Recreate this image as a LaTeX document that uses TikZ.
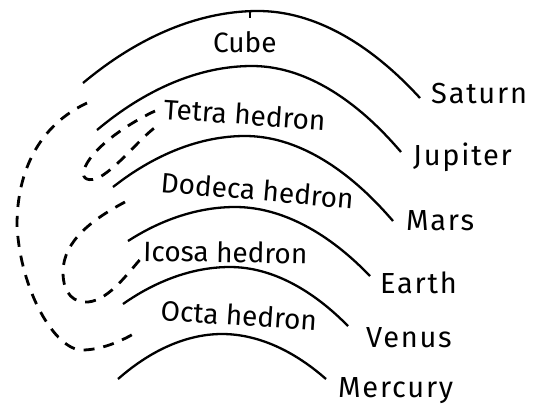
\documentclass[tikz,border=0pt]{standalone}
\usepackage{fontspec}
\newfontfamily\handfont{Fira Sans}
\newfontfamily\planetfont[LetterSpace=6]{Fira Sans}

\begin{document}
\begin{tikzpicture}[
    x=1pt, y=-1pt,
    orbit/.style={line width=2.3pt},
    link/.style={line width=2.8pt, dash pattern=on 11pt off 9pt},
    solidname/.style={font={\handfont\fontsize{28}{30}\selectfont}, anchor=base west, inner sep=0pt},
    planet/.style={font={\planetfont\fontsize{29}{31}\selectfont}, anchor=base west, inner sep=0pt}
]
\useasboundingbox (0,0) rectangle (546,413);

% Orbits
\draw[orbit] (83,83)   parabola bend (258,11)  (420,98);
\draw[orbit] (97,130)  parabola bend (252,66)  (401,152);
\draw[orbit] (113,187) parabola bend (245,136) (393,221);
\draw[orbit] (128,241) parabola bend (235,207) (370,276);
\draw[orbit] (123,304) parabola bend (230,267) (348,326);
\draw[orbit] (118,379) parabola bend (222,334) (326,379);
\draw[line width=1.2pt] (250,12) -- (250,18);

% Planet labels
\node[planet] (saturn)  at (431,103) {Saturn};
\node[planet] (jupiter) at (413,165) {Jupiter};
\node[planet] (mars)    at (406,230) {Mars};
\node[planet] (earth)   at (380,293) {Earth};
\node[planet] (venus)   at (366,347) {Venus};
\node[planet] (mercury) at (338,397) {Mercury};

% Solids
\node[solidname] (cube)   at (213,52)  {Cube};
\node[solidname, rotate=-4] (tetra)  at (163,119) {Tetra hedron};
\node[solidname, rotate=-5] (dodeca) at (160,192) {Dodeca hedron};
\node[solidname, rotate=-1] (icosa)  at (143,261) {Icosa hedron};
\node[solidname, rotate=-4] (octa)   at (160,320) {Octa hedron};

% Dashed links
\draw[link] (87,103) .. controls (40,125) and (17,170) .. (17,225)
    .. controls (20,290) and (55,350) .. (82,350)
    .. controls (100,350) and (120,342) .. (135,333);
\draw[link] (125,202) .. controls (95,218) and (63,240) .. (63,272)
    .. controls (63,295) and (75,303) .. (88,302)
    .. controls (110,300) and (130,270) .. (145,254);
\draw[link] (155,111) .. controls (125,125) and (90,150) .. (84,170)
    .. controls (81,180) and (90,182) .. (100,177)
    .. controls (120,165) and (140,138) .. (157,126);

\end{tikzpicture}
\end{document}
